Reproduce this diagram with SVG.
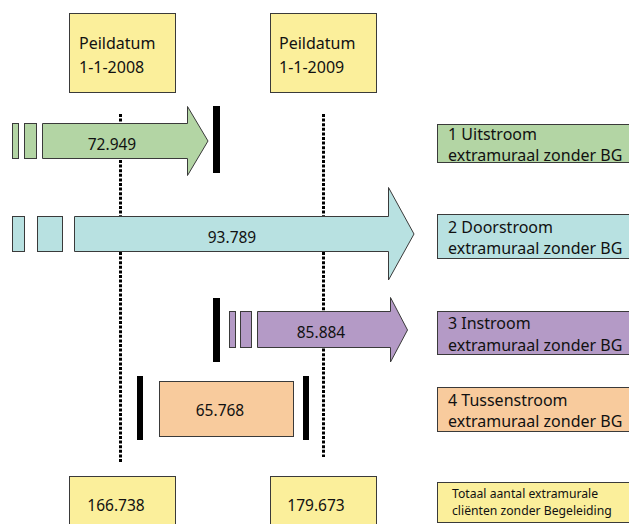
<svg xmlns="http://www.w3.org/2000/svg" width="629" height="524" viewBox="0 0 629 524">
<style>
text{font-family:"Noto Sans","Open Sans","DejaVu Sans",sans-serif;fill:#111;}
.lbl{font-size:15.5px;}
.leg{font-size:16px;}
.big{font-size:16px;}
.sm{font-size:12.2px;}
.b{stroke:#3a3a3a;stroke-width:1;}
.y{fill:#fbef9b;}
.g{fill:#b3d5a4;}
.c{fill:#b8e1e1;}
.p{fill:#b49ac6;}
.o{fill:#f8cb9d;}
.dot{stroke:#000;stroke-width:3;stroke-dasharray:3 1.6;fill:none;}
.bar{fill:#000;}
</style>
<rect width="629" height="524" fill="#fff"/>
<g id="connectors">
<line class="dot" x1="120.5" y1="114" x2="120.5" y2="462"/>
<line class="dot" x1="323.5" y1="114" x2="323.5" y2="457"/>
</g>
<g id="peil2008"><rect class="y b" x="69.5" y="13.5" width="106" height="79"/><text class="big" x="79" y="49">Peildatum</text><text class="big" x="79" y="73">1-1-2008</text></g>
<g id="peil2009"><rect class="y b" x="270.5" y="13.5" width="106" height="79"/><text class="big" x="279" y="49">Peildatum</text><text class="big" x="279" y="73">1-1-2009</text></g>
<g id="uitstroom">
<rect class="g b" x="12.5" y="123.5" width="6" height="35"/>
<rect class="g b" x="24.5" y="123.5" width="12" height="35"/>
<polygon class="g b" points="42.5,123.5 187.5,123.5 187.5,106.5 208,141 187.5,175.5 187.5,158.5 42.5,158.5"/>
<text class="lbl" x="112" y="150" text-anchor="middle">72.949</text>
<rect class="bar" x="213" y="106" width="7" height="67"/>
</g>
<g id="doorstroom">
<rect class="c b" x="12.5" y="216.5" width="12" height="35"/>
<rect class="c b" x="37.5" y="216.5" width="25" height="35"/>
<polygon class="c b" points="74.5,216.5 388.5,216.5 388.5,187.5 414,234 388.5,280 388.5,251.5 74.5,251.5"/>
<text class="lbl" x="232" y="243" text-anchor="middle">93.789</text>
</g>
<g id="instroom">
<rect class="bar" x="213" y="298" width="7" height="64"/>
<rect class="p b" x="229.5" y="311.5" width="6" height="36"/>
<rect class="p b" x="240.5" y="311.5" width="11" height="36"/>
<polygon class="p b" points="257.5,311.5 390.5,311.5 390.5,297.5 407.5,330 390.5,362 390.5,347.5 257.5,347.5"/>
<text class="lbl" x="321" y="338" text-anchor="middle">85.884</text>
</g>
<g id="tussenstroom">
<rect class="bar" x="137" y="376" width="6" height="64"/>
<rect class="o b" x="159.5" y="381.5" width="134" height="55"/>
<text class="lbl" x="220" y="416" text-anchor="middle">65.768</text>
<rect class="bar" x="303" y="376" width="6" height="64"/>
</g>
<g id="totaal2008"><rect class="y b" x="69.5" y="476.5" width="106" height="60"/><text class="lbl" x="116" y="511" text-anchor="middle">166.738</text></g>
<g id="totaal2009"><rect class="y b" x="270.5" y="476.5" width="106" height="60"/><text class="lbl" x="316" y="511" text-anchor="middle">179.673</text></g>
<g id="leg1"><rect class="g b" x="437.5" y="124.5" width="200" height="38"/><text class="leg" x="448" y="140">1 Uitstroom</text><text class="leg" x="448" y="161">extramuraal zonder BG</text></g>
<g id="leg2"><rect class="c b" x="437.5" y="214.5" width="200" height="44"/><text class="leg" x="448" y="233">2 Doorstroom</text><text class="leg" x="448" y="254">extramuraal zonder BG</text></g>
<g id="leg3"><rect class="p b" x="437.5" y="311.5" width="200" height="43"/><text class="leg" x="448" y="329">3 Instroom</text><text class="leg" x="448" y="351">extramuraal zonder BG</text></g>
<g id="leg4"><rect class="o b" x="437.5" y="387.5" width="200" height="44"/><text class="leg" x="448" y="406">4 Tussenstroom</text><text class="leg" x="448" y="427">extramuraal zonder BG</text></g>
<g id="leg5"><rect class="y b" x="437.5" y="482.5" width="200" height="40"/><text class="sm" x="452" y="498">Totaal aantal extramurale</text><text class="sm" x="452" y="515">cliënten zonder Begeleiding</text></g>
</svg>
